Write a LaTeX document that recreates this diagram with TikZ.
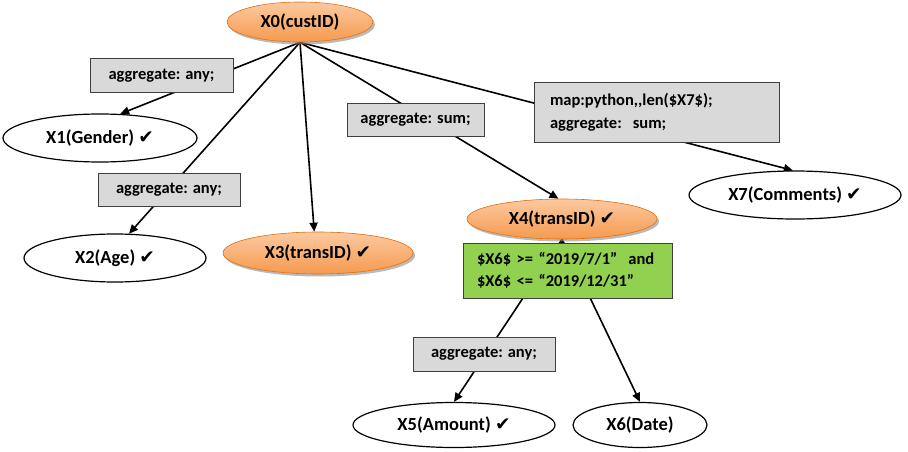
\documentclass[tikz,border=0pt]{standalone}
\usepackage{fontspec}
\setmainfont{Carlito}
\newfontfamily\symfont{DejaVu Sans}
\usetikzlibrary{shapes.geometric,arrows.meta,shadows,backgrounds}
\definecolor{keyfill}{HTML}{F59A4E}
\definecolor{keyfilllight}{HTML}{FCC9A0}
\definecolor{keyline}{HTML}{E46C0A}
\definecolor{opfill}{HTML}{D9D9D9}
\definecolor{opline}{HTML}{3F3F3F}
\definecolor{filterfill}{HTML}{92D050}
\newcommand{\chk}{\ {\symfont ✔}}
\tikzset{
  attr/.style={ellipse, draw, line width=1.2pt, fill=white, inner sep=0pt,
               font=\bfseries\fontsize{18.5}{22}\selectfont},
  keyattr/.style={attr, draw=keyline, line width=0.6pt, top color=keyfilllight, bottom color=keyfill,
                  drop shadow={shadow xshift=2pt, shadow yshift=-2.5pt, fill=black!45, opacity=0.6}},
  opbox/.style={draw=opline, fill=opfill, line width=1pt, inner sep=0pt,
                font=\bfseries\fontsize{16.5}{22.5}\selectfont},
  filterbox/.style={opbox, fill=filterfill},
  link/.style={-{Triangle[length=9pt, width=8pt]}, line width=1.6pt},
}

\begin{document}
\begin{tikzpicture}[x=1pt, y=-1pt]
    \useasboundingbox (0,0) rectangle (908,452);
    \node[keyattr, minimum width=146pt, minimum height=40pt] (x0) at (300,22) {X0(custID)};
    \node[attr, minimum width=194pt, minimum height=48pt] (x1) at (100,138) {X1(Gender)\chk};
    \node[attr, minimum width=182pt, minimum height=48pt] (x2) at (115,258) {X2(Age)\chk};
    \node[keyattr, minimum width=190pt, minimum height=42pt] (x3) at (318,253) {X3(transID)\chk};
    \node[keyattr, minimum width=190pt, minimum height=40pt] (x4) at (562,219) {X4(transID)\chk};
    \node[attr, minimum width=202pt, minimum height=45pt] (x5) at (454,425) {X5(Amount)\chk};
    \node[attr, minimum width=134pt, minimum height=45pt] (x6) at (640,425) {X6(Date)};
    \node[attr, minimum width=212pt, minimum height=48pt] (x7) at (795,195) {X7(Comments)\chk};
    \node[opbox, minimum width=143pt, minimum height=34pt] (aggany1) at (161.5,75.5) {aggregate: any;};
    \node[opbox, minimum width=142pt, minimum height=33pt] (aggany2) at (169,189.5) {aggregate: any;};
    \node[opbox, minimum width=137pt, minimum height=33pt] (aggsum) at (415.5,120) {aggregate: sum;};
    \node[opbox, text width=213pt, inner xsep=16pt, minimum height=59pt, align=left] (mapsum) at (656.5,112.5)
      {map:python,\kern0pt,len(\$X7\$);\\aggregate: \,sum;};
    \node[filterbox, text width=181pt, inner xsep=14pt, minimum height=55pt, align=left] (filter) at (567.5,270.5)
      {\$X6\$ >= “2019/7/1”\ \ and\\\$X6\$ <= “2019/12/31”};
    \node[opbox, minimum width=142pt, minimum height=34pt] (aggany3) at (484,354) {aggregate: any;};
    \begin{pgfonlayer}{background}
      \draw[link] (x0.south) -- (x1.50);
      \draw[link] (x0.south) -- (x2.60);
      \draw[link] (x0.south) -- (x3.100);
      \draw[link] (x0.south) -- (x4.100);
      \draw[link] (x0.south) -- (x7.95);
      \draw[link] (x4.south) -- (x5.north);
      \draw[link] (x4.south) -- (x6.north);
      \draw[link] (filter.center) -- (x4.south);
    \end{pgfonlayer}
\end{tikzpicture}
\end{document}
